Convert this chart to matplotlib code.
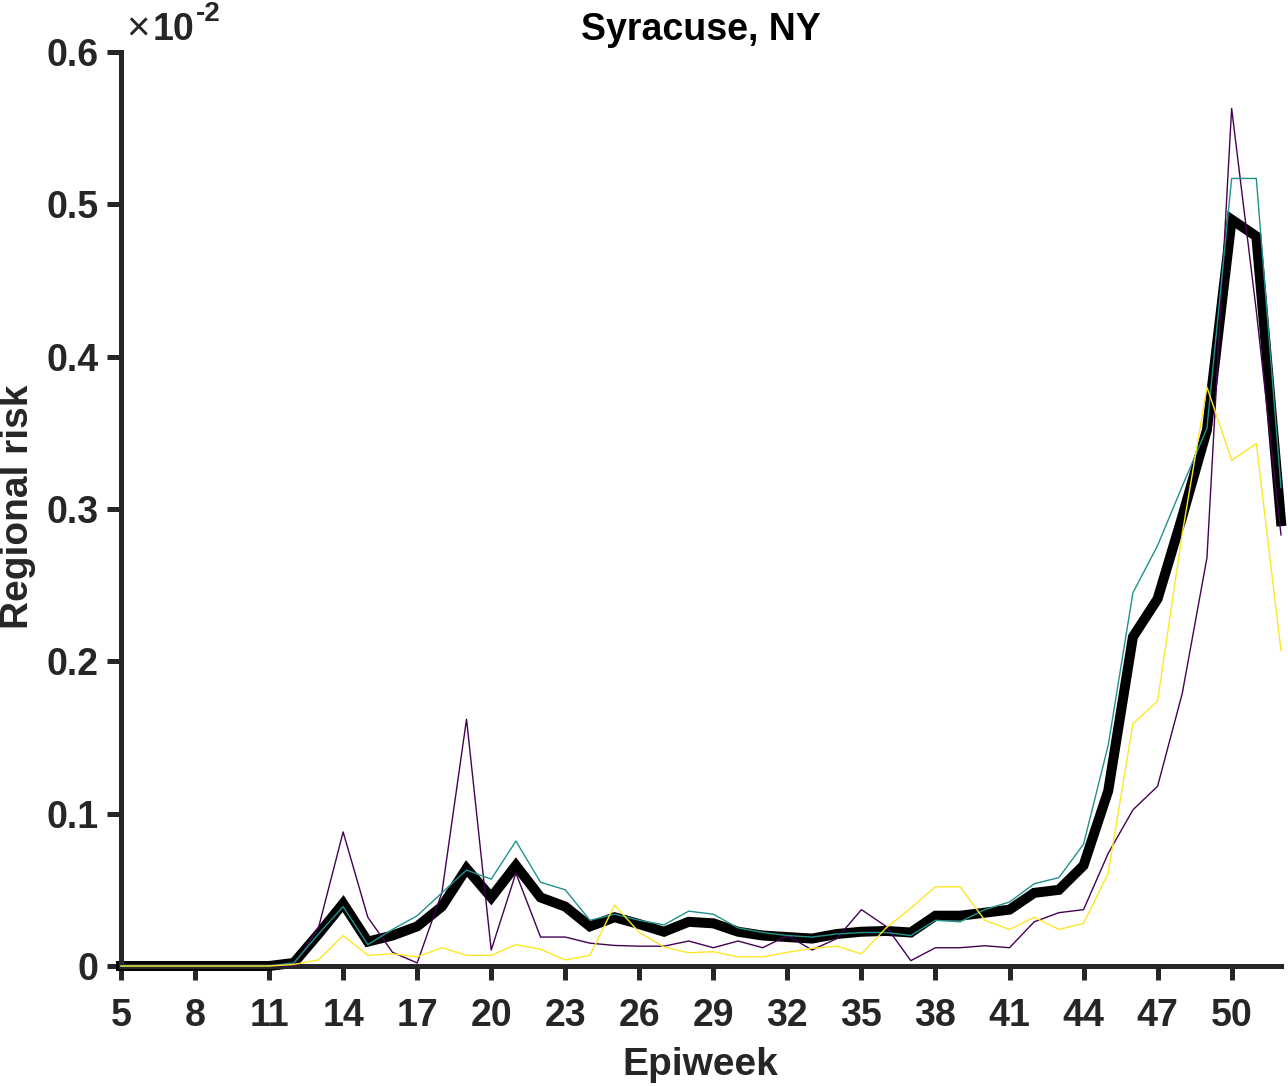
import matplotlib
matplotlib.use('Agg')
import matplotlib.pyplot as plt

plt.rcParams['font.family'] = ['Liberation Sans', 'DejaVu Sans']
plt.rcParams['font.weight'] = 'bold'

# Epiweeks 5..52 (regional risk, in units of 1e-2)
weeks = list(range(5, 53))

mean_risk = [0, 0, 0, 0, 0, 0, 0, 0.002, 0.021, 0.041, 0.016, 0.020, 0.026, 0.039,
             0.064, 0.045, 0.066, 0.045, 0.039, 0.026, 0.032, 0.0275, 0.0225, 0.029,
             0.028, 0.0225, 0.020, 0.019, 0.018, 0.021, 0.0225, 0.023, 0.022, 0.033,
             0.033, 0.035, 0.037, 0.048, 0.050, 0.066, 0.115, 0.216, 0.241, 0.295,
             0.352, 0.490, 0.479, 0.292]

risk_purple = [0, 0, 0, 0, 0, 0, 0, 0, 0.025, 0.088, 0.032, 0.009, 0.002, 0.048,
               0.162, 0.0105, 0.061, 0.019, 0.019, 0.015, 0.0135, 0.013, 0.013, 0.0164,
               0.012, 0.0164, 0.012, 0.020, 0.0105, 0.018, 0.037, 0.026, 0.0035, 0.012,
               0.012, 0.0133, 0.012, 0.029, 0.035, 0.037, 0.074, 0.1025, 0.118, 0.179,
               0.268, 0.563, 0.43, 0.283]

risk_teal = [0, 0, 0, 0, 0, 0, 0, 0.002, 0.021, 0.039, 0.014, 0.024, 0.033, 0.048,
             0.063, 0.057, 0.082, 0.055, 0.050, 0.030, 0.034, 0.030, 0.027, 0.036,
             0.034, 0.025, 0.022, 0.020, 0.019, 0.021, 0.022, 0.022, 0.020, 0.030,
             0.029, 0.037, 0.042, 0.054, 0.058, 0.080, 0.145, 0.245, 0.276, 0.315,
             0.353, 0.517, 0.517, 0.314]

risk_yellow = [0, 0, 0, 0, 0, 0, 0, 0.001, 0.004, 0.020, 0.007, 0.008, 0.006, 0.012,
               0.007, 0.007, 0.014, 0.011, 0.004, 0.007, 0.040, 0.022, 0.0125, 0.0087,
               0.0094, 0.006, 0.006, 0.009, 0.0116, 0.013, 0.008, 0.025, 0.038, 0.052,
               0.052, 0.030, 0.024, 0.032, 0.024, 0.028, 0.061, 0.159, 0.174, 0.284,
               0.380, 0.332, 0.343, 0.207]

W, H = 1288, 1086
fig = plt.figure(figsize=(W / 100, H / 100), dpi=100)
ax = fig.add_axes([121 / W, 1 - 966 / H, (1281 - 121) / W, (966 - 52) / H])

ax.plot(weeks, mean_risk, color='black', lw=7.2, solid_joinstyle='miter', clip_on=False, zorder=2)
ax.plot(weeks, risk_purple, color='#440154', lw=1.0, clip_on=False, zorder=3)
ax.plot(weeks, risk_teal, color='#21918c', lw=1.0, clip_on=False, zorder=3)
ax.plot(weeks, risk_yellow, color='#fde725', lw=1.0, clip_on=False, zorder=3)

ax.set_xlim(5, 52)
ax.set_ylim(0, 0.6)
ax.set_xticks(range(5, 51, 3))
ax.set_yticks([0, 0.1, 0.2, 0.3, 0.4, 0.5, 0.6])
ax.set_yticklabels(['0', '0.1', '0.2', '0.3', '0.4', '0.5', '0.6'])

for s in ['top', 'right']:
    ax.spines[s].set_visible(False)
for s in ['left', 'bottom']:
    ax.spines[s].set_linewidth(3.6)
    ax.spines[s].set_color('#262626')
ax.tick_params(direction='out', length=10, width=3.6, color='#262626',
               labelsize=27, labelcolor='#262626')
ax.tick_params(axis='x', pad=13)
ax.tick_params(axis='y', pad=6)

ax.set_title('Syracuse, NY', fontsize=27, fontweight='bold', pad=9)
ax.set_xlabel('Epiweek', fontsize=28, fontweight='bold', color='#262626')
ax.set_ylabel('Regional risk', fontsize=28, fontweight='bold', color='#262626')

# place axis labels (positions taken in figure pixels)
ax.xaxis.set_label_coords((700 - 121) / (1281 - 121), -(1065 - 966) / (966 - 52))
ax.xaxis.label.set_va('center')
ax.yaxis.set_label_coords(-(121 - 18) / (1281 - 121), (966 - 507) / (966 - 52))
ax.yaxis.label.set_va('center')

# exponent label
fig.text(126 / W, 1 - 40 / H, '\u00d7', fontsize=29, fontweight='normal',
         color='#262626', ha='left', va='baseline')
fig.text(153 / W, 1 - 40 / H, '10', fontsize=27, fontweight='bold',
         color='#262626', ha='left', va='baseline')
fig.text(196 / W, 1 - 21 / H, '-2', fontsize=20, fontweight='bold',
         color='#262626', ha='left', va='baseline')

fig.savefig('out.png', dpi=100)
